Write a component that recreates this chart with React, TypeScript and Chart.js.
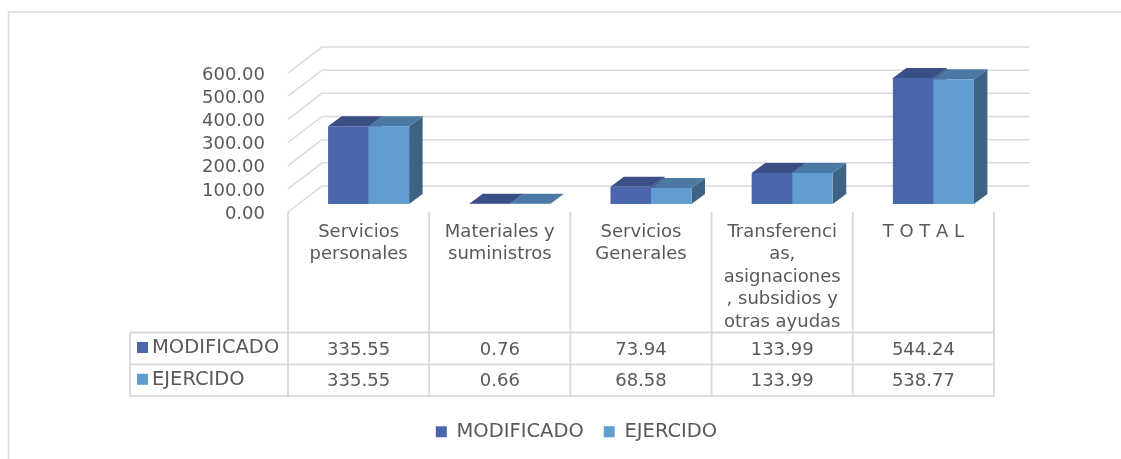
import React, { useEffect, useRef } from "react";
import { Chart, registerables } from "chart.js";

Chart.register(...registerables);

const categories: string[][] = [
  ["Servicios", "personales"],
  ["Materiales y", "suministros"],
  ["Servicios", "Generales"],
  ["Transferenci", "as,", "asignaciones", ", subsidios y", "otras ayudas"],
  ["T O T A L"],
];
const modificado = [335.55, 0.76, 73.94, 133.99, 544.24];
const ejercido = [335.55, 0.66, 68.58, 133.99, 538.77];
const seriesNames = ["MODIFICADO", "EJERCIDO"];
const frontColors = ["#4A66AC", "#629DD1"];
const topColors = ["#394F86", "#4C79A3"];
const sideColors = ["#375078", "#3E6384"];
const textColor = "#595959";
const lineColor = "#D9D9D9";
const fontFamily = "'DejaVu Sans'";
const fontSize = 18;
const capsFontSize = 19.5;

const threeD = {
  id: "threeD",
  beforeDraw(chart: any) {
    const { ctx, chartArea, scales } = chart;
    const y = scales.y;
    const colW = scales.x.width / categories.length;
    const left = chartArea.left - 10;
    const right = left + colW * categories.length;
    ctx.save();
    ctx.strokeStyle = lineColor;
    // outer frame
    ctx.lineWidth = 1.5;
    ctx.beginPath();
    ctx.moveTo(8.5, 459);
    ctx.lineTo(8.5, 12);
    ctx.lineTo(1121, 12);
    ctx.stroke();
    // wall gridlines
    ctx.lineWidth = 1.5;
    y.ticks.forEach((t: any) => {
      const py = y.getPixelForValue(t.value);
      ctx.beginPath();
      ctx.moveTo(left, py);
      ctx.lineTo(left + 34, py - 26);
      ctx.lineTo(1029, py - 26);
      ctx.stroke();
    });
    // data table
    const rowTop = 332.5;
    const rowH = 31.8;
    ctx.lineWidth = 1.8;
    ctx.beginPath();
    for (let r = 0; r <= seriesNames.length; r++) {
      ctx.moveTo(130, rowTop + r * rowH);
      ctx.lineTo(right, rowTop + r * rowH);
    }
    ctx.moveTo(130, rowTop);
    ctx.lineTo(130, rowTop + 2 * rowH);
    for (let c = 0; c <= categories.length; c++) {
      ctx.moveTo(left + c * colW, chartArea.bottom);
      ctx.lineTo(left + c * colW, rowTop + 2 * rowH);
    }
    ctx.stroke();
    ctx.textBaseline = "middle";
    [modificado, ejercido].forEach((vals, r) => {
      const cy = rowTop + r * rowH + 15;
      ctx.fillStyle = frontColors[r];
      ctx.fillRect(137, cy - 5.5, 11, 11);
      ctx.fillStyle = textColor;
      ctx.textAlign = "left";
      ctx.font = `${capsFontSize}px ${fontFamily}`;
      ctx.fillText(seriesNames[r], 152, cy + 0.5);
      ctx.textAlign = "center";
      ctx.font = `${fontSize}px ${fontFamily}`;
      vals.forEach((v, c) => ctx.fillText(v.toFixed(2), left + (c + 0.5) * colW, cy + 2.5));
    });
    ctx.restore();
  },
  beforeDatasetsDraw(chart: any) {
    const { ctx } = chart;
    const dx = 13.5;
    const dy = 10;
    ctx.save();
    chart.data.datasets.forEach((_: any, di: number) => {
      chart.getDatasetMeta(di).data.forEach((bar: any) => {
        const x0 = bar.x - bar.width / 2;
        const x1 = bar.x + bar.width / 2;
        ctx.fillStyle = sideColors[di];
        ctx.beginPath();
        ctx.moveTo(x1, bar.y);
        ctx.lineTo(x1 + dx, bar.y - dy);
        ctx.lineTo(x1 + dx, bar.base - dy);
        ctx.lineTo(x1, bar.base);
        ctx.closePath();
        ctx.fill();
        ctx.fillStyle = topColors[di];
        ctx.beginPath();
        ctx.moveTo(x0, bar.y);
        ctx.lineTo(x0 + dx, bar.y - dy);
        ctx.lineTo(x1 + dx, bar.y - dy);
        ctx.lineTo(x1, bar.y);
        ctx.closePath();
        ctx.fill();
      });
    });
    ctx.restore();
  },
};

export default function App() {
  const ref = useRef<HTMLCanvasElement>(null);
  useEffect(() => {
    const font = { family: fontFamily, size: fontSize };
    const chart = new Chart(ref.current!, {
      type: "bar",
      data: {
        labels: categories as any,
        datasets: [
          { label: seriesNames[0], data: modificado, backgroundColor: frontColors[0], yAxisID: "yBar" },
          { label: seriesNames[1], data: ejercido, backgroundColor: frontColors[1], yAxisID: "yBar" },
        ],
      },
      options: {
        responsive: false,
        animation: false,
        devicePixelRatio: 1,
        layout: { padding: { left: 149, right: 117, top: 73, bottom: 7.5 } },
        datasets: { bar: { categoryPercentage: 0.574, barPercentage: 1 } },
        plugins: {
          tooltip: { enabled: false },
          legend: {
            position: "bottom",
            labels: {
              boxWidth: 11,
              boxHeight: 11,
              padding: 20,
              color: textColor,
              font: { family: fontFamily, size: capsFontSize },
            },
          },
        },
        scales: {
          x: {
            grid: { display: false },
            border: { display: false },
            ticks: {
              color: textColor,
              font: { ...font, lineHeight: 1.25 },
              labelOffset: -10,
              padding: 1,
              autoSkip: false,
              maxRotation: 0,
              minRotation: 0,
            },
            afterFit: (s: any) => {
              s.height = 190;
            },
          },
          y: {
            min: 0,
            max: 600,
            position: "left",
            grid: { display: false, drawTicks: false },
            border: { display: false },
            ticks: {
              stepSize: 100,
              autoSkip: false,
              color: textColor,
              font,
              padding: 33,
              labelOffset: 2,
              callback: (v: any) => Number(v).toFixed(2),
            },
            afterFit: (s: any) => {
              s.width = 149;
            },
          },
          yBar: { display: false, min: -34.53, max: 565.47 },
        },
      },
      plugins: [threeD],
    } as any);
    return () => chart.destroy();
  }, []);
  return (
    <div style={{ position: "absolute", left: 0, top: 0, width: 1121, height: 459, overflow: "hidden" }}>
      <canvas ref={ref} width={1121} height={459} style={{ display: "block" }} />
    </div>
  );
}
